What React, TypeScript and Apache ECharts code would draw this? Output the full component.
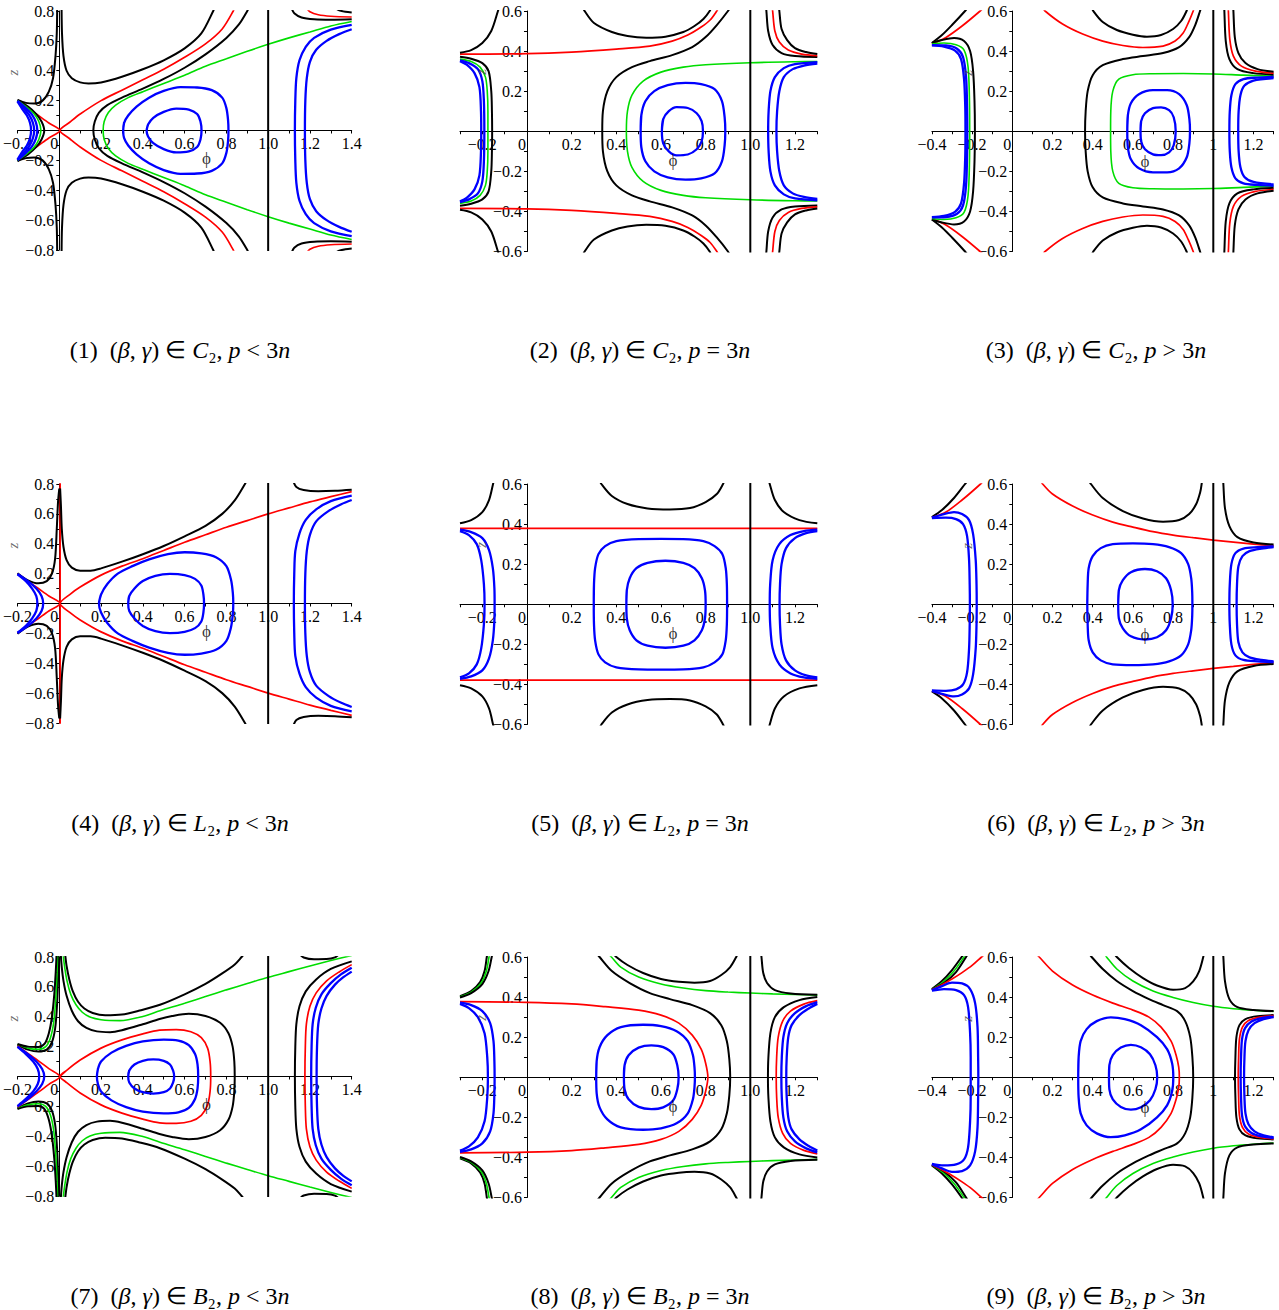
import { useEffect, useRef } from "react";
import * as echarts from "echarts";

// ---------- colours ----------
const K = "#000000";
const R = "#ff0000";
const G = "#00dd00";
const B = "#0000ff";

// ---------- shared ----------
const VLINE: number[][] = [[1, -1], [1, 1]];

// ---------- panel 1 : C2, p < 3n ----------
const P1_BLACK_SPIKE_R = [[0.011, 0.82], [0.013, 0.65], [0.02, 0.5], [0.035, 0.4], [0.06, 0.35], [0.1, 0.322], [0.14, 0.315], [0.2, 0.322], [0.3, 0.36], [0.4, 0.41], [0.5, 0.47], [0.6, 0.55], [0.68, 0.65], [0.737, 0.8], [0.745, 0.83]];
const P1_BLACK_SPIKE_L = [[-0.2, 0.205], [-0.16, 0.185], [-0.12, 0.18], [-0.08, 0.2], [-0.05, 0.26], [-0.03, 0.35], [-0.018, 0.5], [-0.012, 0.65], [-0.01, 0.82]];
const P1_RED_R = [[0.003, 0], [0.05, 0.055], [0.1, 0.11], [0.2, 0.2], [0.3, 0.27], [0.4, 0.34], [0.5, 0.41], [0.6, 0.49], [0.7, 0.58], [0.78, 0.68], [0.833, 0.8], [0.84, 0.83]];
const P1_RED_L = [[-0.2, 0.2], [-0.15, 0.15], [-0.1, 0.1], [-0.05, 0.05], [0.003, 0]];
const P1_BLACK_C = [[0.163, 0], [0.17, 0.06], [0.19, 0.12], [0.23, 0.17], [0.3, 0.22], [0.4, 0.28], [0.5, 0.345], [0.6, 0.42], [0.7, 0.51], [0.8, 0.62], [0.86, 0.71], [0.9, 0.8], [0.91, 0.83]];
const P1_GREEN = [[0.21, 0], [0.215, 0.06], [0.235, 0.12], [0.27, 0.17], [0.33, 0.22], [0.4, 0.26], [0.5, 0.315], [0.6, 0.37], [0.7, 0.43], [0.8, 0.48], [0.9, 0.53], [1.0, 0.577], [1.1, 0.62], [1.2, 0.66], [1.3, 0.7], [1.4, 0.73]];
const P1_BLUE_OUTER = [[0.306, 0], [0.31, 0.05], [0.33, 0.1], [0.37, 0.16], [0.43, 0.22], [0.5, 0.265], [0.58, 0.29], [0.66, 0.288], [0.73, 0.27], [0.78, 0.22], [0.8, 0.15], [0.808, 0.07], [0.81, 0]];
const P1_BLUE_INNER = [[0.418, 0], [0.425, 0.04], [0.45, 0.085], [0.5, 0.125], [0.56, 0.147], [0.62, 0.14], [0.66, 0.11], [0.676, 0.06], [0.681, 0]];
const P1_BLUE_R1 = [[1.128, 0], [1.13, 0.2], [1.135, 0.35], [1.15, 0.47], [1.18, 0.56], [1.22, 0.62], [1.3, 0.675], [1.4, 0.707]];
const P1_BLUE_R2 = [[1.176, 0], [1.178, 0.2], [1.185, 0.35], [1.2, 0.46], [1.23, 0.54], [1.28, 0.6], [1.34, 0.645], [1.4, 0.678]];
const P1_BLACK_TR1 = [[1.112, 0.82], [1.125, 0.785], [1.16, 0.757], [1.22, 0.745], [1.3, 0.742], [1.4, 0.745]];
const P1_RED_TR = [[1.184, 0.82], [1.2, 0.795], [1.24, 0.775], [1.3, 0.765], [1.4, 0.76]];
const P1_BLACK_TR2 = [[1.32, 0.82], [1.34, 0.805], [1.37, 0.795], [1.4, 0.79]];
const P1_LEFT_BLACK = [[-0.2, 0.203], [-0.15, 0.16], [-0.11, 0.11], [-0.085, 0.06], [-0.072, 0]];
const P1_LEFT_GREEN = [[-0.2, 0.2], [-0.155, 0.155], [-0.12, 0.11], [-0.098, 0.06], [-0.088, 0]];
const P1_LEFT_BLUE1 = [[-0.2, 0.198], [-0.16, 0.15], [-0.13, 0.105], [-0.112, 0.055], [-0.105, 0]];
const P1_LEFT_BLUE2 = [[-0.2, 0.196], [-0.17, 0.15], [-0.142, 0.1], [-0.126, 0.05], [-0.12, 0]];
const P1_LEFT_BLUE3 = [[-0.2, 0.194], [-0.178, 0.145], [-0.155, 0.1], [-0.14, 0.05], [-0.135, 0]];

// ---------- panel 2 : C2, p = 3n ----------
const P2_RED_TOP = [[-0.3, 0.385], [0, 0.387], [0.2, 0.395], [0.4, 0.41], [0.55, 0.425], [0.65, 0.45], [0.72, 0.48], [0.78, 0.52], [0.82, 0.555], [0.85, 0.6], [0.86, 0.62]];
const P2_BLACK_TL = [[-0.125, 0.62], [-0.13, 0.6], [-0.16, 0.5], [-0.2, 0.44], [-0.25, 0.405], [-0.3, 0.392]];
const P2_BLACK_ARCH = [[0.25, 0.62], [0.258, 0.6], [0.3, 0.54], [0.38, 0.495], [0.45, 0.475], [0.534, 0.467], [0.62, 0.472], [0.7, 0.495], [0.75, 0.525], [0.79, 0.56], [0.818, 0.6], [0.825, 0.62]];
const P2_BLACK_S = [[0.337, 0], [0.34, 0.1], [0.36, 0.2], [0.4, 0.27], [0.47, 0.32], [0.55, 0.35], [0.65, 0.38], [0.74, 0.42], [0.8, 0.47], [0.85, 0.53], [0.9, 0.6], [0.91, 0.62]];
const P2_GREEN = [[0.445, 0], [0.45, 0.1], [0.47, 0.18], [0.52, 0.25], [0.6, 0.295], [0.7, 0.32], [0.8, 0.332], [1.0, 0.342], [1.2, 0.347], [1.3, 0.348]];
const P2_BLUE_OUTER = [[0.509, 0], [0.512, 0.08], [0.53, 0.15], [0.57, 0.2], [0.63, 0.23], [0.71, 0.241], [0.78, 0.235], [0.84, 0.21], [0.873, 0.15], [0.885, 0.07], [0.888, 0]];
const P2_BLUE_INNER = [[0.604, 0], [0.61, 0.06], [0.635, 0.1], [0.67, 0.12], [0.72, 0.116], [0.76, 0.09], [0.782, 0.05], [0.788, 0]];
const P2_BLUE_R1 = [[1.08, 0], [1.082, 0.1], [1.09, 0.2], [1.11, 0.27], [1.15, 0.315], [1.2, 0.335], [1.3, 0.345]];
const P2_BLUE_R2 = [[1.117, 0], [1.12, 0.1], [1.13, 0.2], [1.15, 0.27], [1.19, 0.31], [1.24, 0.328], [1.3, 0.338]];
const P2_BLACK_TR1 = [[1.07, 0.62], [1.072, 0.6], [1.08, 0.5], [1.1, 0.43], [1.14, 0.39], [1.2, 0.375], [1.3, 0.37]];
const P2_RED_TR = [[1.098, 0.62], [1.1, 0.6], [1.11, 0.5], [1.13, 0.445], [1.17, 0.405], [1.23, 0.385], [1.3, 0.377]];
const P2_BLACK_TR2 = [[1.128, 0.62], [1.13, 0.6], [1.14, 0.51], [1.165, 0.455], [1.2, 0.415], [1.25, 0.395], [1.3, 0.385]];
const P2_LEFT_BLACK = [[-0.3, 0.372], [-0.25, 0.362], [-0.2, 0.34], [-0.172, 0.3], [-0.16, 0.2], [-0.157, 0.1], [-0.156, 0]];
const P2_LEFT_GREEN = [[-0.3, 0.36], [-0.25, 0.348], [-0.21, 0.32], [-0.186, 0.27], [-0.178, 0.2], [-0.175, 0.1], [-0.175, 0]];
const P2_LEFT_BLUE1 = [[-0.3, 0.354], [-0.26, 0.34], [-0.22, 0.31], [-0.2, 0.25], [-0.193, 0.15], [-0.191, 0]];
const P2_LEFT_BLUE2 = [[-0.3, 0.35], [-0.27, 0.332], [-0.235, 0.29], [-0.213, 0.22], [-0.206, 0.1], [-0.205, 0]];

// ---------- panel 3 : C2, p > 3n ----------
const P3_BLACK_TL = [[-0.4, 0.44], [-0.35, 0.48], [-0.3, 0.53], [-0.235, 0.6], [-0.22, 0.62]];
const P3_RED_TL = [[-0.4, 0.435], [-0.33, 0.468], [-0.25, 0.525], [-0.16, 0.6], [-0.14, 0.62]];
const P3_LEFT_BLACK = [[-0.4, 0.44], [-0.35, 0.455], [-0.29, 0.465], [-0.24, 0.45], [-0.21, 0.4], [-0.195, 0.3], [-0.188, 0.15], [-0.186, 0]];
const P3_LEFT_GREEN = [[-0.4, 0.435], [-0.34, 0.44], [-0.28, 0.432], [-0.24, 0.405], [-0.22, 0.32], [-0.213, 0.15], [-0.212, 0]];
const P3_LEFT_BLUE1 = [[-0.4, 0.43], [-0.33, 0.428], [-0.275, 0.412], [-0.245, 0.37], [-0.23, 0.27], [-0.225, 0.12], [-0.224, 0]];
const P3_LEFT_BLUE2 = [[-0.4, 0.428], [-0.34, 0.422], [-0.285, 0.402], [-0.255, 0.36], [-0.24, 0.26], [-0.234, 0.12], [-0.233, 0]];
const P3_RED_ARCH = [[0.15, 0.62], [0.163, 0.6], [0.25, 0.535], [0.35, 0.485], [0.45, 0.45], [0.55, 0.428], [0.65, 0.418], [0.75, 0.425], [0.81, 0.45], [0.85, 0.49], [0.875, 0.54], [0.9, 0.6], [0.905, 0.62]];
const P3_BLACK_ARCH = [[0.395, 0.62], [0.403, 0.6], [0.45, 0.545], [0.52, 0.505], [0.6, 0.482], [0.67, 0.472], [0.74, 0.48], [0.8, 0.51], [0.84, 0.55], [0.867, 0.6], [0.872, 0.62]];
const P3_BLACK_S = [[0.362, 0], [0.365, 0.1], [0.375, 0.2], [0.4, 0.28], [0.45, 0.33], [0.55, 0.36], [0.65, 0.375], [0.75, 0.39], [0.83, 0.42], [0.88, 0.47], [0.91, 0.53], [0.934, 0.6], [0.94, 0.62]];
const P3_GREEN = [[0.489, 0], [0.49, 0.1], [0.5, 0.2], [0.53, 0.26], [0.6, 0.282], [0.7, 0.287], [0.85, 0.288], [1.0, 0.286], [1.15, 0.28], [1.3, 0.275]];
const P3_BLUE_OUTER = [[0.572, 0], [0.575, 0.08], [0.59, 0.14], [0.63, 0.185], [0.7, 0.205], [0.77, 0.205], [0.83, 0.185], [0.868, 0.13], [0.881, 0.06], [0.884, 0]];
const P3_BLUE_INNER = [[0.638, 0], [0.641, 0.05], [0.66, 0.09], [0.7, 0.115], [0.74, 0.119], [0.78, 0.105], [0.803, 0.07], [0.813, 0]];
const P3_BLUE_R1 = [[1.08, 0], [1.082, 0.1], [1.09, 0.18], [1.11, 0.235], [1.15, 0.26], [1.22, 0.268], [1.3, 0.272]];
const P3_BLUE_R2 = [[1.124, 0], [1.126, 0.1], [1.135, 0.18], [1.155, 0.228], [1.2, 0.253], [1.3, 0.265]];
const P3_BLACK_TR1 = [[1.054, 0.62], [1.055, 0.6], [1.062, 0.45], [1.08, 0.36], [1.12, 0.31], [1.2, 0.29], [1.3, 0.283]];
const P3_RED_TR = [[1.074, 0.62], [1.075, 0.6], [1.082, 0.46], [1.1, 0.375], [1.14, 0.325], [1.21, 0.3], [1.3, 0.29]];
const P3_BLACK_TR2 = [[1.099, 0.62], [1.1, 0.6], [1.107, 0.47], [1.125, 0.39], [1.16, 0.34], [1.22, 0.31], [1.3, 0.297]];

// ---------- panel 4 : L2, p < 3n ----------
const P4_RED_R = [[0.004, 0], [0.05, 0.06], [0.1, 0.11], [0.2, 0.19], [0.3, 0.25], [0.4, 0.3], [0.5, 0.355], [0.6, 0.41], [0.7, 0.46], [0.8, 0.51], [0.9, 0.555], [1.0, 0.6], [1.1, 0.64], [1.2, 0.68], [1.3, 0.715], [1.4, 0.749]];
const P4_RED_L = [[-0.2, 0.2], [-0.15, 0.15], [-0.1, 0.1], [-0.05, 0.05], [0.004, 0]];
const P4_RED_V = [[0.004, -1], [0.004, 1]];
const P4_BLACK_R = [[0.004, 0.77], [0.008, 0.65], [0.012, 0.5], [0.02, 0.38], [0.035, 0.29], [0.06, 0.24], [0.1, 0.22], [0.15, 0.22], [0.2, 0.235], [0.3, 0.28], [0.4, 0.33], [0.5, 0.385], [0.6, 0.45], [0.7, 0.52], [0.78, 0.6], [0.84, 0.69], [0.889, 0.8], [0.9, 0.83]];
const P4_BLACK_L = [[-0.2, 0.203], [-0.15, 0.155], [-0.1, 0.135], [-0.06, 0.15], [-0.035, 0.2], [-0.02, 0.3], [-0.012, 0.5], [-0.006, 0.68], [0.0, 0.77]];
const P4_LEFT_BLUE1 = [[-0.2, 0.198], [-0.15, 0.15], [-0.11, 0.1], [-0.085, 0.05], [-0.077, 0]];
const P4_LEFT_BLUE2 = [[-0.2, 0.196], [-0.16, 0.15], [-0.13, 0.1], [-0.11, 0.05], [-0.105, 0]];
const P4_BLUE_OUTER = [[0.19, 0], [0.2, 0.06], [0.23, 0.13], [0.28, 0.2], [0.35, 0.25], [0.43, 0.295], [0.52, 0.33], [0.6, 0.343], [0.68, 0.335], [0.75, 0.31], [0.8, 0.25], [0.822, 0.16], [0.831, 0.07], [0.833, 0]];
const P4_BLUE_INNER = [[0.33, 0], [0.335, 0.05], [0.36, 0.1], [0.4, 0.15], [0.46, 0.185], [0.53, 0.198], [0.6, 0.19], [0.65, 0.165], [0.68, 0.12], [0.69, 0.06], [0.693, 0]];
const P4_BLUE_R1 = [[1.123, 0], [1.125, 0.2], [1.13, 0.35], [1.15, 0.47], [1.18, 0.56], [1.23, 0.63], [1.3, 0.685], [1.4, 0.722]];
const P4_BLUE_R2 = [[1.176, 0], [1.178, 0.2], [1.185, 0.35], [1.2, 0.46], [1.23, 0.55], [1.29, 0.62], [1.35, 0.665], [1.4, 0.693]];
const P4_BLACK_TR = [[1.12, 0.82], [1.135, 0.78], [1.17, 0.76], [1.24, 0.752], [1.32, 0.755], [1.4, 0.762]];

// ---------- panel 5 : L2, p = 3n ----------
const P5_RED_H = [[-0.3, 0.379], [1.3, 0.379]];
const P5_BLACK_ARCH = [[0.325, 0.62], [0.333, 0.6], [0.38, 0.54], [0.45, 0.5], [0.54, 0.478], [0.64, 0.473], [0.73, 0.48], [0.8, 0.51], [0.85, 0.55], [0.878, 0.6], [0.885, 0.62]];
const P5_BLACK_TL = [[-0.148, 0.62], [-0.152, 0.6], [-0.17, 0.52], [-0.2, 0.46], [-0.25, 0.42], [-0.3, 0.404]];
const P5_BLACK_TR = [[1.083, 0.62], [1.087, 0.6], [1.11, 0.52], [1.15, 0.46], [1.22, 0.42], [1.3, 0.404]];
const P5_LEFT_BLUE_A = [[-0.3, 0.372], [-0.25, 0.36], [-0.2, 0.33], [-0.17, 0.27], [-0.153, 0.18], [-0.146, 0.08], [-0.145, 0]];
const P5_LEFT_BLUE_B = [[-0.3, 0.365], [-0.26, 0.345], [-0.225, 0.3], [-0.205, 0.22], [-0.193, 0.1], [-0.19, 0]];
const P5_BLUE_OUTER = [[0.299, 0], [0.3, 0.1], [0.305, 0.18], [0.32, 0.25], [0.35, 0.29], [0.4, 0.315], [0.5, 0.325], [0.6, 0.326], [0.7, 0.325], [0.79, 0.315], [0.84, 0.29], [0.875, 0.25], [0.89, 0.18], [0.895, 0.1], [0.896, 0]];
const P5_BLUE_INNER = [[0.445, 0], [0.447, 0.07], [0.46, 0.13], [0.49, 0.18], [0.54, 0.207], [0.62, 0.217], [0.7, 0.207], [0.75, 0.18], [0.783, 0.13], [0.797, 0.07], [0.8, 0]];
const P5_BLUE_RA = [[1.087, 0], [1.089, 0.1], [1.1, 0.22], [1.13, 0.3], [1.18, 0.345], [1.24, 0.365], [1.3, 0.372]];
const P5_BLUE_RB = [[1.131, 0], [1.133, 0.1], [1.14, 0.2], [1.16, 0.28], [1.2, 0.33], [1.25, 0.355], [1.3, 0.365]];

// ---------- panel 6 : L2, p > 3n ----------
const P6_BLACK_TL = [[-0.4, 0.435], [-0.35, 0.47], [-0.29, 0.53], [-0.235, 0.6], [-0.22, 0.62]];
const P6_RED_TL = [[-0.4, 0.432], [-0.33, 0.46], [-0.25, 0.52], [-0.158, 0.6], [-0.14, 0.62]];
const P6_LEFT_BLUE_A = [[-0.4, 0.432], [-0.34, 0.45], [-0.29, 0.46], [-0.25, 0.45], [-0.215, 0.42], [-0.195, 0.35], [-0.182, 0.22], [-0.178, 0.1], [-0.177, 0]];
const P6_LEFT_BLUE_B = [[-0.4, 0.43], [-0.33, 0.432], [-0.28, 0.425], [-0.245, 0.4], [-0.225, 0.34], [-0.215, 0.22], [-0.212, 0.1], [-0.211, 0]];
const P6_RED_ARCH = [[0.14, 0.62], [0.151, 0.6], [0.2, 0.55], [0.3, 0.49], [0.4, 0.445], [0.5, 0.41], [0.6, 0.385], [0.7, 0.362], [0.8, 0.345], [0.9, 0.332], [1.0, 0.32], [1.1, 0.31], [1.2, 0.3], [1.3, 0.292]];
const P6_BLACK_ARCH = [[0.38, 0.62], [0.391, 0.6], [0.45, 0.53], [0.55, 0.465], [0.65, 0.428], [0.75, 0.412], [0.83, 0.42], [0.88, 0.45], [0.915, 0.5], [0.935, 0.56], [0.942, 0.6], [0.944, 0.62]];
const P6_BLACK_TR = [[1.049, 0.62], [1.05, 0.6], [1.058, 0.48], [1.08, 0.39], [1.12, 0.335], [1.2, 0.308], [1.3, 0.298]];
const P6_BLUE_OUTER = [[0.373, 0], [0.375, 0.1], [0.38, 0.18], [0.4, 0.24], [0.44, 0.28], [0.5, 0.3], [0.6, 0.304], [0.7, 0.3], [0.78, 0.285], [0.84, 0.255], [0.875, 0.2], [0.89, 0.13], [0.895, 0.06], [0.896, 0]];
const P6_BLUE_INNER = [[0.527, 0], [0.53, 0.07], [0.55, 0.12], [0.59, 0.16], [0.66, 0.176], [0.72, 0.165], [0.765, 0.13], [0.79, 0.07], [0.798, 0]];
const P6_BLUE_RA = [[1.08, 0], [1.082, 0.1], [1.09, 0.2], [1.11, 0.255], [1.15, 0.278], [1.22, 0.285], [1.3, 0.289]];
const P6_BLUE_RB = [[1.116, 0], [1.118, 0.1], [1.125, 0.19], [1.145, 0.24], [1.18, 0.265], [1.24, 0.278], [1.3, 0.285]];

// ---------- panel 7 : B2, p < 3n ----------
const P7_BLACK_INNER = [[0.84, 0], [0.838, 0.1], [0.83, 0.2], [0.81, 0.29], [0.77, 0.36], [0.7, 0.405], [0.62, 0.42], [0.54, 0.405], [0.48, 0.385], [0.4, 0.35], [0.3, 0.31], [0.243, 0.297], [0.18, 0.302], [0.13, 0.325], [0.09, 0.37], [0.06, 0.44], [0.035, 0.54], [0.02, 0.64], [0.012, 0.73], [0.007, 0.82]];
const P7_GREEN_R = [[0.018, 0.82], [0.025, 0.74], [0.037, 0.64], [0.055, 0.55], [0.08, 0.48], [0.11, 0.43], [0.147, 0.398], [0.2, 0.38], [0.29, 0.374], [0.4, 0.402], [0.482, 0.44], [0.6, 0.49], [0.7, 0.535], [0.8, 0.58], [0.9, 0.622], [1.0, 0.664], [1.1, 0.702], [1.2, 0.74], [1.3, 0.776], [1.4, 0.811]];
const P7_BLACK_OUTER = [[0.028, 0.82], [0.035, 0.74], [0.048, 0.65], [0.065, 0.57], [0.09, 0.5], [0.12, 0.455], [0.16, 0.425], [0.22, 0.41], [0.3, 0.415], [0.38, 0.44], [0.482, 0.48], [0.6, 0.55], [0.7, 0.62], [0.78, 0.69], [0.84, 0.75], [0.873, 0.8], [0.885, 0.82]];
const P7_L_BLACK_LOW = [[-0.2, 0.212], [-0.15, 0.18], [-0.1, 0.167], [-0.06, 0.18], [-0.035, 0.23], [-0.02, 0.32], [-0.012, 0.45], [-0.007, 0.6], [-0.004, 0.82]];
const P7_L_GREEN = [[-0.2, 0.215], [-0.15, 0.19], [-0.1, 0.182], [-0.065, 0.2], [-0.042, 0.26], [-0.027, 0.36], [-0.018, 0.5], [-0.012, 0.65], [-0.008, 0.82]];
const P7_L_BLACK_HIGH = [[-0.2, 0.218], [-0.15, 0.2], [-0.1, 0.198], [-0.07, 0.22], [-0.05, 0.29], [-0.035, 0.4], [-0.024, 0.55], [-0.017, 0.7], [-0.013, 0.82]];
const P7_RED_LOOP = [[0.003, 0], [0.03, 0.035], [0.1, 0.11], [0.2, 0.19], [0.3, 0.245], [0.4, 0.285], [0.48, 0.31], [0.56, 0.314], [0.63, 0.3], [0.68, 0.26], [0.71, 0.19], [0.722, 0.1], [0.725, 0]];
const P7_RED_L = [[-0.2, 0.205], [-0.15, 0.155], [-0.1, 0.105], [-0.05, 0.053], [0.003, 0]];
const P7_BLUE_OUTER = [[0.18, 0], [0.185, 0.05], [0.2, 0.1], [0.25, 0.16], [0.32, 0.205], [0.4, 0.235], [0.5, 0.247], [0.57, 0.24], [0.62, 0.21], [0.65, 0.15], [0.662, 0.08], [0.665, 0]];
const P7_BLUE_INNER = [[0.33, 0], [0.335, 0.04], [0.36, 0.08], [0.4, 0.105], [0.45, 0.114], [0.5, 0.105], [0.53, 0.08], [0.545, 0.04], [0.55, 0]];
const P7_LEFT_BLUE1 = [[-0.2, 0.2], [-0.15, 0.15], [-0.11, 0.1], [-0.082, 0.05], [-0.072, 0]];
const P7_LEFT_BLUE2 = [[-0.2, 0.198], [-0.16, 0.15], [-0.125, 0.1], [-0.103, 0.05], [-0.096, 0]];
const P7_BLACK_RC = [[1.128, 0], [1.13, 0.2], [1.135, 0.35], [1.15, 0.47], [1.18, 0.57], [1.23, 0.65], [1.3, 0.72], [1.4, 0.771]];
const P7_RED_RC = [[1.176, 0], [1.178, 0.2], [1.183, 0.35], [1.2, 0.47], [1.23, 0.56], [1.28, 0.64], [1.34, 0.7], [1.4, 0.749]];
const P7_BLUE_RC1 = [[1.206, 0], [1.208, 0.2], [1.213, 0.35], [1.228, 0.46], [1.255, 0.55], [1.3, 0.625], [1.35, 0.685], [1.4, 0.728]];
const P7_BLUE_RC2 = [[1.232, 0], [1.234, 0.2], [1.24, 0.35], [1.255, 0.455], [1.28, 0.54], [1.32, 0.615], [1.36, 0.665], [1.4, 0.702]];
const P7_BLACK_TR = [[1.15, 0.82], [1.17, 0.797], [1.22, 0.785], [1.28, 0.786], [1.32, 0.797], [1.34, 0.82]];

// ---------- panel 8 : B2, p = 3n ----------
const P8_RED = [[0.81, 0], [0.8, 0.07], [0.78, 0.14], [0.74, 0.21], [0.68, 0.27], [0.6, 0.31], [0.5, 0.335], [0.35, 0.352], [0.2, 0.366], [0, 0.374], [-0.3, 0.377]];
const P8_BLACK_S = [[0.91, 0], [0.906, 0.09], [0.895, 0.18], [0.87, 0.26], [0.82, 0.32], [0.74, 0.36], [0.64, 0.39], [0.55, 0.42], [0.46, 0.47], [0.38, 0.53], [0.325, 0.6], [0.31, 0.62]];
const P8_GREEN = [[0.36, 0.62], [0.378, 0.6], [0.42, 0.55], [0.5, 0.5], [0.6, 0.465], [0.7, 0.445], [0.8, 0.432], [0.9, 0.425], [1.0, 0.42], [1.1, 0.416], [1.2, 0.413], [1.3, 0.41]];
const P8_BLACK_ARCH = [[0.385, 0.62], [0.4, 0.6], [0.45, 0.56], [0.52, 0.52], [0.6, 0.49], [0.68, 0.476], [0.75, 0.472], [0.82, 0.48], [0.87, 0.51], [0.91, 0.55], [0.937, 0.6], [0.945, 0.62]];
const P8_BLUE_OUTER = [[0.31, 0], [0.312, 0.08], [0.325, 0.15], [0.36, 0.21], [0.42, 0.25], [0.52, 0.262], [0.6, 0.255], [0.67, 0.23], [0.72, 0.18], [0.743, 0.11], [0.75, 0.05], [0.752, 0]];
const P8_BLUE_INNER = [[0.434, 0], [0.437, 0.06], [0.455, 0.11], [0.5, 0.148], [0.557, 0.159], [0.61, 0.15], [0.655, 0.115], [0.673, 0.06], [0.679, 0]];
const P8_L_BLACK1 = [[-0.3, 0.405], [-0.25, 0.43], [-0.21, 0.475], [-0.19, 0.53], [-0.18, 0.6], [-0.177, 0.62]];
const P8_L_GREEN = [[-0.3, 0.402], [-0.25, 0.425], [-0.205, 0.47], [-0.182, 0.53], [-0.17, 0.6], [-0.166, 0.62]];
const P8_L_BLACK2 = [[-0.3, 0.398], [-0.25, 0.42], [-0.2, 0.465], [-0.172, 0.53], [-0.158, 0.6], [-0.154, 0.62]];
const P8_LEFT_BLUE_A = [[-0.3, 0.372], [-0.25, 0.36], [-0.2, 0.33], [-0.165, 0.27], [-0.15, 0.18], [-0.146, 0.08], [-0.145, 0]];
const P8_LEFT_BLUE_B = [[-0.3, 0.366], [-0.26, 0.345], [-0.22, 0.3], [-0.19, 0.22], [-0.178, 0.1], [-0.175, 0]];
const P8_BLACK_RC = [[1.079, 0], [1.081, 0.1], [1.09, 0.22], [1.11, 0.3], [1.15, 0.35], [1.22, 0.385], [1.3, 0.4]];
const P8_RED_RC = [[1.116, 0], [1.118, 0.1], [1.125, 0.2], [1.145, 0.28], [1.18, 0.33], [1.24, 0.365], [1.3, 0.382]];
const P8_BLUE_RC1 = [[1.139, 0], [1.141, 0.1], [1.148, 0.2], [1.165, 0.27], [1.2, 0.32], [1.25, 0.355], [1.3, 0.375]];
const P8_BLUE_RC2 = [[1.161, 0], [1.163, 0.1], [1.17, 0.2], [1.185, 0.26], [1.22, 0.31], [1.26, 0.342], [1.3, 0.366]];
const P8_BLACK_TR = [[1.048, 0.62], [1.05, 0.6], [1.058, 0.52], [1.075, 0.47], [1.11, 0.435], [1.18, 0.418], [1.3, 0.412]];

// ---------- panel 9 : B2, p > 3n ----------
const P9_L_BLACK1 = [[-0.4, 0.44], [-0.35, 0.48], [-0.3, 0.535], [-0.252, 0.6], [-0.24, 0.62]];
const P9_L_GREEN = [[-0.4, 0.438], [-0.345, 0.475], [-0.29, 0.53], [-0.24, 0.6], [-0.228, 0.62]];
const P9_L_BLACK2 = [[-0.4, 0.437], [-0.34, 0.47], [-0.28, 0.525], [-0.23, 0.6], [-0.218, 0.62]];
const P9_L_RED = [[-0.4, 0.436], [-0.35, 0.462], [-0.3, 0.49], [-0.25, 0.522], [-0.2, 0.558], [-0.153, 0.6], [-0.13, 0.62]];
const P9_LEFT_BLUE_A = [[-0.4, 0.434], [-0.35, 0.455], [-0.3, 0.472], [-0.25, 0.468], [-0.21, 0.44], [-0.185, 0.37], [-0.173, 0.25], [-0.17, 0.1], [-0.169, 0]];
const P9_LEFT_BLUE_B = [[-0.4, 0.432], [-0.34, 0.44], [-0.28, 0.435], [-0.24, 0.41], [-0.22, 0.35], [-0.21, 0.22], [-0.207, 0.1], [-0.207, 0]];
const P9_RED = [[0.831, 0], [0.828, 0.05], [0.815, 0.11], [0.79, 0.18], [0.74, 0.25], [0.68, 0.3], [0.6, 0.335], [0.5, 0.37], [0.4, 0.41], [0.3, 0.46], [0.2, 0.53], [0.134, 0.6], [0.115, 0.62]];
const P9_BLACK_S = [[0.9, 0], [0.896, 0.1], [0.885, 0.2], [0.86, 0.28], [0.82, 0.33], [0.75, 0.36], [0.68, 0.39], [0.6, 0.43], [0.52, 0.48], [0.45, 0.54], [0.395, 0.6], [0.38, 0.62]];
const P9_GREEN = [[0.455, 0.62], [0.469, 0.6], [0.52, 0.54], [0.6, 0.48], [0.7, 0.43], [0.8, 0.398], [0.9, 0.373], [1.0, 0.354], [1.1, 0.342], [1.2, 0.334], [1.3, 0.328]];
const P9_BLACK_ARCH = [[0.505, 0.62], [0.52, 0.6], [0.58, 0.545], [0.65, 0.495], [0.72, 0.458], [0.8, 0.437], [0.86, 0.445], [0.9, 0.478], [0.93, 0.53], [0.95, 0.6], [0.953, 0.62]];
const P9_BLACK_TR = [[1.049, 0.62], [1.05, 0.6], [1.058, 0.48], [1.08, 0.39], [1.12, 0.35], [1.2, 0.336], [1.3, 0.33]];
const P9_BLUE_OUTER = [[0.328, 0], [0.33, 0.1], [0.34, 0.18], [0.37, 0.24], [0.42, 0.28], [0.49, 0.299], [0.56, 0.29], [0.64, 0.26], [0.72, 0.2], [0.77, 0.14], [0.795, 0.07], [0.801, 0]];
const P9_BLUE_INNER = [[0.481, 0], [0.483, 0.06], [0.5, 0.11], [0.54, 0.148], [0.59, 0.162], [0.64, 0.15], [0.685, 0.115], [0.712, 0.06], [0.721, 0]];
const P9_BLACK_RC = [[1.108, 0], [1.11, 0.1], [1.115, 0.2], [1.13, 0.26], [1.16, 0.29], [1.22, 0.305], [1.3, 0.31]];
const P9_RED_RC = [[1.124, 0], [1.126, 0.1], [1.13, 0.19], [1.145, 0.25], [1.175, 0.283], [1.23, 0.3], [1.3, 0.307]];
const P9_BLUE_RC1 = [[1.136, 0], [1.138, 0.1], [1.143, 0.19], [1.158, 0.245], [1.19, 0.278], [1.24, 0.295], [1.3, 0.303]];
const P9_BLUE_RC2 = [[1.153, 0], [1.155, 0.1], [1.16, 0.18], [1.175, 0.235], [1.205, 0.27], [1.25, 0.29], [1.3, 0.3]];

// ---------- captions ----------
const CAP_NUM = ["1", "2", "3", "4", "5", "6", "7", "8", "9"];
const CAP_SET = ["C", "C", "C", "L", "L", "L", "B", "B", "B"];
const CAP_REL = ["<", "=", ">", "<", "=", ">", "<", "=", ">"];

// ---------- helpers ----------
const mirror = (pts: number[][]) => pts.map(([x, z]) => [x, -z]);
const sym = (half: number[][]) => {
  const m = mirror(half).reverse();
  return half[0][1] === 0 ? m.concat(half.slice(1)) : half.concat(m.slice(1));
};
// closed loop: upper half, lower half back, then re-enter the first segment so the joint is smooth
const closed = (upper: number[][]) => upper.concat(mirror(upper).reverse().slice(1), [upper[1]]);

type Kind = "sym" | "closed" | "pair" | "raw";
type Curve = [Kind, string, number[][]];

const PANEL_CURVES: Curve[][] = [
  [
    ["pair", K, P1_BLACK_SPIKE_R], ["pair", K, P1_BLACK_SPIKE_L], ["sym", R, P1_RED_R], ["sym", R, P1_RED_L],
    ["sym", K, P1_BLACK_C], ["sym", G, P1_GREEN], ["closed", B, P1_BLUE_OUTER], ["closed", B, P1_BLUE_INNER],
    ["sym", B, P1_BLUE_R1], ["sym", B, P1_BLUE_R2], ["pair", K, P1_BLACK_TR1], ["pair", R, P1_RED_TR], ["pair", K, P1_BLACK_TR2],
    ["sym", K, P1_LEFT_BLACK], ["sym", G, P1_LEFT_GREEN], ["sym", B, P1_LEFT_BLUE1], ["sym", B, P1_LEFT_BLUE2], ["sym", B, P1_LEFT_BLUE3],
    ["raw", K, VLINE],
  ],
  [
    ["pair", R, P2_RED_TOP], ["pair", K, P2_BLACK_TL], ["pair", K, P2_BLACK_ARCH], ["sym", K, P2_BLACK_S], ["sym", G, P2_GREEN],
    ["closed", B, P2_BLUE_OUTER], ["closed", B, P2_BLUE_INNER], ["sym", B, P2_BLUE_R1], ["sym", B, P2_BLUE_R2],
    ["pair", K, P2_BLACK_TR1], ["pair", R, P2_RED_TR], ["pair", K, P2_BLACK_TR2],
    ["sym", K, P2_LEFT_BLACK], ["sym", G, P2_LEFT_GREEN], ["sym", B, P2_LEFT_BLUE1], ["sym", B, P2_LEFT_BLUE2],
    ["raw", K, VLINE],
  ],
  [
    ["pair", K, P3_BLACK_TL], ["pair", R, P3_RED_TL], ["sym", K, P3_LEFT_BLACK], ["sym", G, P3_LEFT_GREEN], ["sym", B, P3_LEFT_BLUE1], ["sym", B, P3_LEFT_BLUE2],
    ["pair", R, P3_RED_ARCH], ["pair", K, P3_BLACK_ARCH], ["sym", K, P3_BLACK_S], ["sym", G, P3_GREEN],
    ["closed", B, P3_BLUE_OUTER], ["closed", B, P3_BLUE_INNER], ["sym", B, P3_BLUE_R1], ["sym", B, P3_BLUE_R2],
    ["pair", K, P3_BLACK_TR1], ["pair", R, P3_RED_TR], ["pair", K, P3_BLACK_TR2],
    ["raw", K, VLINE],
  ],
  [
    ["raw", R, P4_RED_V], ["sym", R, P4_RED_R], ["sym", R, P4_RED_L], ["pair", K, P4_BLACK_R], ["pair", K, P4_BLACK_L],
    ["sym", B, P4_LEFT_BLUE1], ["sym", B, P4_LEFT_BLUE2], ["closed", B, P4_BLUE_OUTER], ["closed", B, P4_BLUE_INNER],
    ["sym", B, P4_BLUE_R1], ["sym", B, P4_BLUE_R2], ["pair", K, P4_BLACK_TR],
    ["raw", K, VLINE],
  ],
  [
    ["pair", R, P5_RED_H], ["pair", K, P5_BLACK_ARCH], ["pair", K, P5_BLACK_TL], ["pair", K, P5_BLACK_TR],
    ["sym", B, P5_LEFT_BLUE_A], ["sym", B, P5_LEFT_BLUE_B], ["closed", B, P5_BLUE_OUTER], ["closed", B, P5_BLUE_INNER],
    ["sym", B, P5_BLUE_RA], ["sym", B, P5_BLUE_RB],
    ["raw", K, VLINE],
  ],
  [
    ["pair", K, P6_BLACK_TL], ["pair", R, P6_RED_TL], ["sym", B, P6_LEFT_BLUE_A], ["sym", B, P6_LEFT_BLUE_B],
    ["pair", R, P6_RED_ARCH], ["pair", K, P6_BLACK_ARCH], ["pair", K, P6_BLACK_TR],
    ["closed", B, P6_BLUE_OUTER], ["closed", B, P6_BLUE_INNER], ["sym", B, P6_BLUE_RA], ["sym", B, P6_BLUE_RB],
    ["raw", K, VLINE],
  ],
  [
    ["sym", K, P7_BLACK_INNER], ["pair", G, P7_GREEN_R], ["pair", K, P7_BLACK_OUTER],
    ["pair", K, P7_L_BLACK_LOW], ["pair", G, P7_L_GREEN], ["pair", K, P7_L_BLACK_HIGH],
    ["closed", R, P7_RED_LOOP], ["sym", R, P7_RED_L], ["closed", B, P7_BLUE_OUTER], ["closed", B, P7_BLUE_INNER],
    ["sym", B, P7_LEFT_BLUE1], ["sym", B, P7_LEFT_BLUE2],
    ["sym", K, P7_BLACK_RC], ["sym", R, P7_RED_RC], ["sym", B, P7_BLUE_RC1], ["sym", B, P7_BLUE_RC2], ["pair", K, P7_BLACK_TR],
    ["raw", K, VLINE],
  ],
  [
    ["sym", R, P8_RED], ["sym", K, P8_BLACK_S], ["pair", G, P8_GREEN], ["pair", K, P8_BLACK_ARCH],
    ["closed", B, P8_BLUE_OUTER], ["closed", B, P8_BLUE_INNER],
    ["pair", K, P8_L_BLACK1], ["pair", G, P8_L_GREEN], ["pair", K, P8_L_BLACK2], ["sym", B, P8_LEFT_BLUE_A], ["sym", B, P8_LEFT_BLUE_B],
    ["sym", K, P8_BLACK_RC], ["sym", R, P8_RED_RC], ["sym", B, P8_BLUE_RC1], ["sym", B, P8_BLUE_RC2], ["pair", K, P8_BLACK_TR],
    ["raw", K, VLINE],
  ],
  [
    ["pair", K, P9_L_BLACK1], ["pair", G, P9_L_GREEN], ["pair", K, P9_L_BLACK2], ["pair", R, P9_L_RED],
    ["sym", B, P9_LEFT_BLUE_A], ["sym", B, P9_LEFT_BLUE_B],
    ["sym", R, P9_RED], ["sym", K, P9_BLACK_S], ["pair", G, P9_GREEN], ["pair", K, P9_BLACK_ARCH], ["pair", K, P9_BLACK_TR],
    ["closed", B, P9_BLUE_OUTER], ["closed", B, P9_BLUE_INNER],
    ["sym", K, P9_BLACK_RC], ["sym", R, P9_RED_RC], ["sym", B, P9_BLUE_RC1], ["sym", B, P9_BLUE_RC2],
    ["raw", K, VLINE],
  ],
];

// ---------- layout (pixels) ----------
const COL_LEFT = [17.3, 460, 931.9];
const COL_WIDTH = [334.4, 357.3, 341.7];
const COL_XMIN = [-0.2, -0.3, -0.4];
const COL_XMAX = [1.4, 1.3, 1.3];
const COL_YMAX = [0.8, 0.6, 0.6];
const COL_HEIGHT = [239, 240.5, 240.5];
const COL_ONE = ["1.0", "1.0", "1"];
const ROW_TOP = [11, 484, 957];
const CAP_X = [180, 640, 1096];
const CAP_Y = [350, 823, 1296];
const PHI_POS = [[0.705, -0.19], [0.654, -0.148], [0.66, -0.15]];
const Z_POS = [[-0.22, 0.388], [-0.204, 0.296], [-0.227, 0.292]];

const FONT = "Liberation Serif";

const fmtTick = (k: number) => (k < 0 ? "\u2212" : "") + (Math.abs(k) / 10).toFixed(1);

function buildOption() {
  const grid: any[] = [];
  const xAxis: any[] = [];
  const yAxis: any[] = [];
  const series: any[] = [];
  const graphic: any[] = [];

  for (let i = 0; i < 9; i++) {
    const row = Math.floor(i / 3);
    const col = i % 3;
    const xmin = COL_XMIN[col];
    const xmax = COL_XMAX[col];
    const w = COL_WIDTH[col];
    const h = COL_HEIGHT[col];
    grid.push({ left: COL_LEFT[col], top: ROW_TOP[row], width: w, height: h, containLabel: false });
    xAxis.push({
      type: "value", gridIndex: i, min: xmin, max: xmax, interval: 0.1,
      position: "bottom", offset: -h / 2,
      axisLine: { onZero: false, lineStyle: { color: "#000", width: 1 } },
      axisTick: { show: true, length: 3, lineStyle: { color: "#000", width: 1 } },
      splitLine: { show: false },
      axisLabel: {
        show: true, showMinLabel: true, showMaxLabel: true, margin: 5, color: "#000", fontFamily: FONT, fontSize: 16,
        formatter: (v: number) => {
          const k = Math.round(v * 10);
          if (k % 2 !== 0) return "";
          if (k === 0) return "{o|0}";
          if (k === 10) return COL_ONE[col];
          return fmtTick(k);
        },
        rich: { o: { fontFamily: FONT, fontSize: 16, color: "#000", padding: [0, 10, 6, 0] } },
      },
    });
    yAxis.push({
      type: "value", gridIndex: i, min: -COL_YMAX[col], max: COL_YMAX[col], interval: 0.1,
      position: "left", offset: -((0 - xmin) / (xmax - xmin)) * w,
      axisLine: { onZero: false, lineStyle: { color: "#000", width: 1 } },
      axisTick: { show: true, length: 3, lineStyle: { color: "#000", width: 1 } },
      splitLine: { show: false },
      axisLabel: {
        show: true, showMinLabel: true, showMaxLabel: true, margin: 5, color: "#000", fontFamily: FONT, fontSize: 16,
        formatter: (v: number) => {
          const k = Math.round(v * 10);
          if (k % 2 !== 0 || k === 0) return "";
          return fmtTick(k);
        },
      },
    });

    for (const [kind, color, pts] of PANEL_CURVES[i]) {
      const width = color === B ? 2.3 : color === K ? 2 : color === R ? 1.7 : 1.6;
      const datasets = kind === "sym" ? [sym(pts)] : kind === "closed" ? [closed(pts)] : kind === "pair" ? [pts, mirror(pts)] : [pts];
      for (const d of datasets) {
        series.push({
          type: "line", xAxisIndex: i, yAxisIndex: i, data: d, showSymbol: false, symbol: "none",
          smooth: kind === "raw" ? false : 0.3, silent: true, clip: true, z: 3,
          lineStyle: { color, width }, emphasis: { disabled: true },
        });
      }
    }
    // axis names placed in data space
    series.push({
      type: "scatter", xAxisIndex: i, yAxisIndex: i, silent: true, symbol: "circle", symbolSize: 1, clip: false,
      itemStyle: { color: "rgba(0,0,0,0)" }, z: 4,
      data: [PHI_POS[col]],
      label: { show: true, position: "inside", formatter: "\u03d5", fontFamily: FONT, fontSize: 17, color: "#000" },
    });
    series.push({
      type: "scatter", xAxisIndex: i, yAxisIndex: i, silent: true, symbol: "circle", symbolSize: 1, clip: false,
      itemStyle: { color: "rgba(0,0,0,0)" }, z: 4,
      data: [Z_POS[col]],
      label: { show: true, position: "inside", formatter: "z", rotate: 90, fontFamily: FONT, fontStyle: "italic", fontSize: 15, color: "#444" },
    });

    graphic.push({
      type: "text", x: CAP_X[col], y: CAP_Y[row], silent: true,
      style: {
        text: `{r|(${CAP_NUM[i]})  (}{i|\u03b2}{r|, }{i|\u03b3}{r|) \u2208 }{i|${CAP_SET[i]}}{r|\u2082, }{i|p}{r| ${CAP_REL[i]} 3}{i|n}`,
        align: "center", verticalAlign: "middle", fill: "#000", fontFamily: FONT, fontSize: 24,
        rich: {
          r: { fontFamily: FONT, fontSize: 24, fill: "#000" },
          i: { fontFamily: FONT, fontSize: 24, fontStyle: "italic", fill: "#000" },
        },
      },
    });
  }

  return { animation: false, backgroundColor: "#ffffff", grid, xAxis, yAxis, series, graphic };
}

export default function App() {
  const ref = useRef<HTMLDivElement>(null);
  useEffect(() => {
    if (!ref.current) return;
    const chart = echarts.init(ref.current, undefined, { renderer: "svg" });
    chart.setOption(buildOption() as any);
    return () => chart.dispose();
  }, []);
  return (
    <div
      ref={ref}
      style={{ position: "absolute", left: 0, top: 0, width: 1279, height: 1310, background: "#fff" }}
    />
  );
}
